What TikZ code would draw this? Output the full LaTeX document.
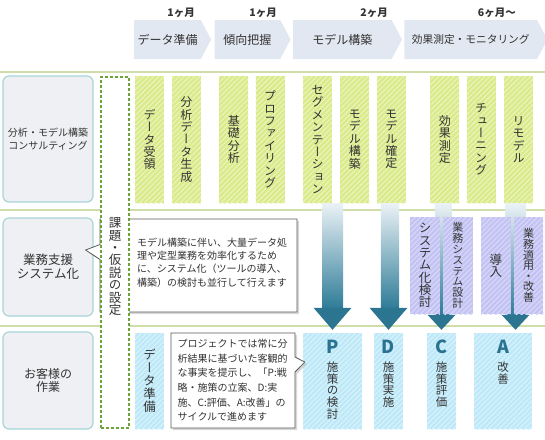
\documentclass[tikz,border=0pt]{standalone}
\usepackage{fontspec}
\setmainfont{Noto Sans CJK JP}
\newfontfamily\vjp[RawFeature=+vert]{Noto Sans CJK JP}
\usetikzlibrary{positioning,shapes.symbols,shapes.callouts,shadows,patterns.meta}

\definecolor{hdrfill}{HTML}{E2E8F1}
\definecolor{sepline}{HTML}{CFDDAA}
\definecolor{lblfill}{HTML}{EEF0F3}
\definecolor{lblline}{HTML}{A7D5D8}
\definecolor{grnfill}{HTML}{D9EA88}
\definecolor{grnline}{HTML}{E9F3B8}
\definecolor{purfill}{HTML}{C2C2F3}
\definecolor{purline}{HTML}{D6D6F9}
\definecolor{cyafill}{HTML}{BDE8F8}
\definecolor{cyaline}{HTML}{D5F2FC}
\definecolor{flowtop}{HTML}{EBF2F6}
\definecolor{flowbot}{HTML}{2F7C98}
\definecolor{flowhead}{HTML}{2C7591}
\definecolor{dashgrn}{HTML}{6AA338}
\definecolor{txt}{HTML}{333333}
\definecolor{pdca}{HTML}{2B7291}

% vertical (tate-gaki) text: one character per line
\newcommand\tate[2][12.4pt]{\vbox{\vjp\baselineskip=#1\lineskiplimit=-\maxdimen\tatenext#2\relax}}
\def\tatenext#1{\ifx\relax#1\else\hbox to 1em{\hss#1\hss}\expandafter\tatenext\fi}

% gradient arrow: top point, tip point, half shaft, half head, head length
\newcommand\flowarrow[5]{%
  \coordinate (ftop) at (#1);
  \coordinate (ftip) at (#2);
  \shade[top color=flowtop, bottom color=flowbot] ([xshift=-#3]ftop) rectangle ([xshift=#3,yshift=#5]ftip);
  \fill[flowhead] ([xshift=-#4,yshift=#5]ftip) -- ([xshift=#4,yshift=#5]ftip) -- (ftip) -- cycle;}

\tikzset{
  hdr/.style={signal, signal to=east, signal pointer angle=124, fill=hdrfill, text=txt,
    minimum height=39pt, inner sep=0pt, font=\fontsize{12}{12}\selectfont},
  month/.style={anchor=east, inner sep=0pt, text=txt, font=\fontsize{10.5}{11}\selectfont\bfseries},
  lbl/.style={draw=lblline, fill=lblfill, line width=1.2pt, rounded corners=6pt,
    minimum width=90pt, align=center, inner sep=0pt, text=txt},
  stripes/.style 2 args={preaction={fill=#1}, pattern={Lines[angle=45,distance=3.6pt,line width=1.3pt]}, pattern color=#2},
  grn/.style={stripes={grnfill}{grnline}, minimum width=29pt, minimum height=127pt,
    inner sep=0pt, text=txt, font=\fontsize{12}{12}\selectfont},
  pur/.style={stripes={purfill}{purline}, minimum width=29.5pt, minimum height=97pt,
    inner sep=0pt, text=txt},
  cya/.style={stripes={cyafill}{cyaline}, minimum height=96pt, inner sep=0pt, text=txt},
  letter/.style={inner sep=0pt, text=pdca, font=\fontsize{18}{18}\selectfont\bfseries},
  pdtext/.style={anchor=north, inner sep=0pt, text=txt, font=\fontsize{11.5}{11.5}\selectfont},
  note/.style={rectangle callout, draw=black!65, fill=white, line width=0.8pt, callout pointer width=15pt,
    drop shadow={shadow xshift=2pt, shadow yshift=-2pt, fill=black!30}},
  notetext/.style={anchor=north west, align=left, inner sep=0pt, text=txt},
  sep/.style={draw=sepline, line width=1.2pt},
}

\begin{document}
\begin{tikzpicture}[x=1pt,y=-1pt]
  \useasboundingbox (0,0) rectangle (545,439);
  % row separators
  \draw[sep] (0,72) -- (545,72);
  \draw[sep] (0,210) -- (545,210);
  \draw[sep] (0,326) -- (545,326);

  % schedule
  \node[hdr, minimum width=77pt] (hdr1) at (167.5,39.5) {データ準備};
  \node[hdr, minimum width=76pt, right=3pt of hdr1] (hdr2) {傾向把握};
  \node[hdr, minimum width=109pt, right=2pt of hdr2] (hdr3) {モデル構築};
  \node[hdr, minimum width=143pt, right=2pt of hdr3, font=\fontsize{10.7}{11}\selectfont] (hdr4) {効果測定・モニタリング};
  \node[month] (m1) at (195,13) {1ヶ月};
  \node[month] (m2) at (277,13) {1ヶ月};
  \node[month] (m3) at (388,13) {2ヶ月};
  \node[month] (m4) at (516,13) {6ヶ月〜};

  % row labels
  \node[lbl, minimum height=126pt, font=\fontsize{10}{13}\selectfont] (lbl1) at (48,139) {分析・モデル構築\\コンサルティング};
  \node[lbl, minimum height=98pt, font=\fontsize{12.5}{14}\selectfont] (lbl2) at (48,267) {業務支援\\システム化};
  \node[lbl, minimum height=97pt, font=\fontsize{12}{13}\selectfont] (lbl3) at (48,380.5) {お客様の\\作業};

  % note on system support
  \node[note, minimum width=197pt, minimum height=93pt,
    callout absolute pointer={([xshift=-8pt,yshift=17pt]lbl2.east)}] (note2) at (198.5,265.5) {};
  \node[notetext, font=\fontsize{10}{13.3}\selectfont] (note2txt) at (137,237.5)
    {モデル構築に伴い、大量データ処\\理や定型業務を効率化するため\\に、システム化（ツールの導入、\\構築）の検討も並行して行えます};

  % hypothesis column
  \node[draw=dashgrn, dash pattern=on 3pt off 2pt, line width=1.2pt, fill=white,
    minimum width=28pt, minimum height=351pt, inner sep=0pt] (hypobox) at (115,252.5) {};
  \node[inner sep=0pt, text=txt, font=\fontsize{12.5}{12.5}\selectfont] (hypo) at (115,266.5) {\tate{課題・仮説の設定}};

  % consulting tasks
  \node[grn] (rcv) at (149.5,139.5) {\tate{データ受領}};
  \node[grn, right=7pt of rcv] (gen) {\tate{分析データ生成}};
  \node[grn, right=18pt of gen] (basic) {\tate{基礎分析}};
  \node[grn, right=7pt of basic] (prof) {\tate{プロファイリング}};
  \node[grn, right=18pt of prof] (seg) {\tate{セグメンテーション}};
  \node[grn, right=8pt of seg] (model) {\tate{モデル構築}};
  \node[grn, right=7pt of model] (fix) {\tate{モデル確定}};
  \node[grn, right=24pt of fix] (effect) {\tate{効果測定}};
  \node[grn, right=7pt of effect] (tune) {\tate{チューニング}};
  \node[grn, right=8pt of tune] (remodel) {\tate{リモデル}};

  % customer tasks
  \node[cya, minimum width=29pt, font=\fontsize{12.5}{12.5}\selectfont] (prep) at (149.5,381) {\tate[13pt]{データ準備}};
  \node[cya, minimum width=59pt] (plan) at (332.5,381) {};
  \node[cya, minimum width=29pt] (do) at (388.5,381) {};
  \node[cya, minimum width=29pt] (check) at (441.5,381) {};
  \node[cya, minimum width=58pt] (act) at (503,381) {};
  \node[letter] (plan-l) at ([yshift=-13.5pt]plan.north) {P};
  \node[letter] (do-l) at ([yshift=-13.5pt]do.north) {D};
  \node[letter] (check-l) at ([yshift=-13.5pt]check.north) {C};
  \node[letter] (act-l) at ([yshift=-13.5pt]act.north) {A};
  \node[pdtext] (plan-t) at ([yshift=-29pt]plan.north) {\tate[11.6pt]{施策の検討}};
  \node[pdtext] (do-t) at ([yshift=-29pt]do.north) {\tate[11.6pt]{施策実施}};
  \node[pdtext] (check-t) at ([yshift=-29pt]check.north) {\tate[11.6pt]{施策評価}};
  \node[pdtext] (act-t) at ([yshift=-29pt]act.north) {\tate[11.6pt]{改善}};

  % note on PDCA
  \node[note, minimum width=124pt, minimum height=95pt,
    callout absolute pointer={([xshift=2pt,yshift=19pt]plan.west)}] (note3) at (233,380.5) {};
  \node[notetext, font=\fontsize{10}{14.6}\selectfont] (note3txt) at (177.5,339)
    {プロジェクトでは常に分\\析結果に基づいた客観的\\な事実を提示し、「P:戦\\略・施策の立案、D:実\\施、C:評価、A:改善」の\\サイクルで進めます};

  % flow arrows
  \flowarrow{plan.north |- seg.south}{[yshift=3pt]plan.north}{10.5pt}{19pt}{22pt}
  \flowarrow{fix.south}{[yshift=3pt]do.north}{10.5pt}{19pt}{22pt}
  \flowarrow{effect.south}{[yshift=3pt]check.north}{10pt}{14pt}{15pt}
  \coordinate (atip) at (act.north -| remodel.south);
  \flowarrow{[xshift=-3pt]remodel.south}{[xshift=-3pt,yshift=3pt]atip}{10pt}{14pt}{15pt}

  % system tasks
  \node[pur, font=\fontsize{12.5}{12.5}\selectfont] (sysk) at (425,265.5) {\tate[12.3pt]{システム化検討}};
  \node[pur, font=\fontsize{11}{11}\selectfont, right=3pt of sysk] (sysd) {\tate[10.8pt]{業務システム設計}};
  \node[pur, font=\fontsize{12.5}{12.5}\selectfont, right=8pt of sysd] (intro) {\tate[12.3pt]{導入}};
  \node[pur, font=\fontsize{11}{11}\selectfont, right=3pt of intro] (apply) {\tate[10.6pt]{業務適用・改善}};
\end{tikzpicture}
\end{document}
